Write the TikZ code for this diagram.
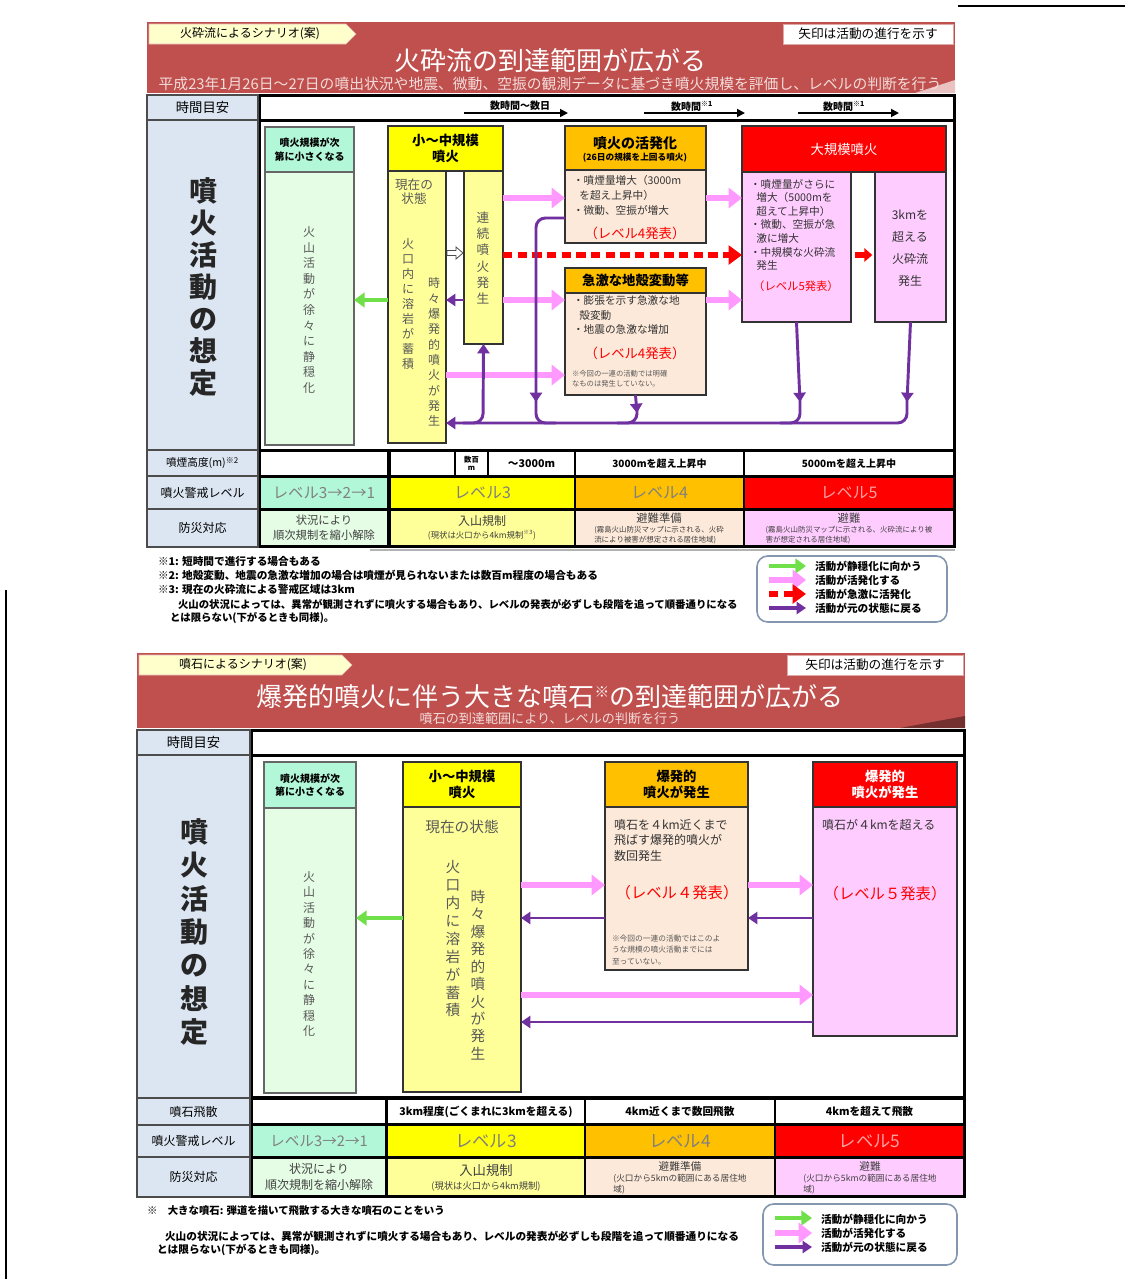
\documentclass[tikz,border=0pt]{standalone}
\usepackage{fontspec}
\setmainfont{Noto Sans CJK JP}
\usetikzlibrary{fit,arrows.meta}
\definecolor{banner}{HTML}{C0504D}
\definecolor{tabY}{HTML}{FFFFCC}
\definecolor{lblue}{HTML}{DCE6F2}
\definecolor{mint}{HTML}{B3F7D9}
\definecolor{lgreen}{HTML}{E5FDE5}
\definecolor{yel}{HTML}{FFFF00}
\definecolor{lyel}{HTML}{FFFF99}
\definecolor{ora}{HTML}{FFC000}
\definecolor{peach}{HTML}{FDE9D9}
\definecolor{rred}{HTML}{FF0000}
\definecolor{lpink}{HTML}{FFCCFF}
\definecolor{parr}{HTML}{FF99FF}
\definecolor{garr}{HTML}{70E04A}
\definecolor{purp}{HTML}{7030A0}
\definecolor{txtg}{HTML}{595959}
\definecolor{subpink}{HTML}{F2DCDB}
\definecolor{legb}{HTML}{8497B0}
\definecolor{lvtxt}{HTML}{808080}
\definecolor{lv5txt}{HTML}{FFA0A0}
\newcommand\F[2]{\fontsize{#1}{#2}\selectfont}
% \cell{box style}{name}{x1}{y1}{x2}{y2}{text options}{text}
\newcommand\cell[8]{\node[#1,fit={(#3,#4)(#5,#6)}] (#2) {};\node[align=center,#7] (#2t) at (#2.center) {#8};}
\tikzset{
  every node/.style={inner sep=0pt,outer sep=0pt},
  lbl/.style={draw=black!70,fill=lblue,line width=0.8pt},
  thk/.style={draw=black,line width=1.8pt,fill=white},
  cellb/.style={draw=black,line width=1pt},
  bx/.style={draw=black!80,line width=1pt},
  pinkar/.style={draw=parr,line width=4.5pt,-{Triangle[length=10pt,width=15pt]}},
  greenar/.style={draw=garr,line width=2.6pt,-{Triangle[length=8pt,width=11pt]}},
  purpar/.style={draw=purp,line width=2.2pt,-{Triangle[length=7pt,width=9pt]}},
  purpln/.style={draw=purp,line width=2.2pt,rounded corners=7pt},
  reddash/.style={draw=rred,line width=3.8pt,dash pattern=on 7pt off 4pt,-{Triangle[length=10pt,width=14pt]}},
  redar/.style={draw=rred,line width=5pt,-{Triangle[length=6pt,width=10pt]}},
  timear/.style={draw=black,line width=1.3pt,-{Triangle[length=6pt,width=6pt]}},
  gtxt/.style={text=txtg,align=center},
  ltxt/.style={text=black!80,align=left},
}
\begin{document}
\begin{tikzpicture}[x=0.75pt,y=-0.75pt]
\useasboundingbox (0,0) rectangle (1125,1279);
\fill[white] (0,0) rectangle (1125,1279);
\draw[line width=1.5pt] (958,6) -- (1125,6);
\draw[line width=2pt] (6,590) -- (6,1279);

%================ TOP DIAGRAM =================
\fill[banner] (147,22) rectangle (955,93);
\fill[banner!35] (915,93) -- (955,80) -- (955,93) -- cycle;
\draw[fill=tabY,draw=banner!40] (149,24) -- (346,24) -- (356,34) -- (346,44) -- (149,44) -- cycle;
\node (tab1) at (250,34) {\F{9}{10}火砕流によるシナリオ(案)};
\cell{draw=banner!50,fill=white}{note1}{783}{24}{953}{44}{font=\F{9.5}{10}}{矢印は活動の進行を示す}
\node[text=white] (title1) at (550,61) {\F{19.5}{22}火砕流の到達範囲が広がる};
\node[text=subpink] (sub1) at (550,84) {\F{11.1}{13}平成23年1月26日～27日の噴出状況や地震、微動、空振の観測データに基づき噴火規模を評価し、レベルの判断を行う};

\draw[line width=1.8pt] (147,95) rectangle (955,547);
\cell{lbl}{L1}{147}{95}{258}{120}{font=\F{10}{12}}{時間目安}
\node[lbl,fit={(147,120)(258,450)}] (L2) {};
\node[align=center,font=\F{21}{24}\bfseries,text=black!85] (L2t) at (203,287) {噴\\火\\活\\動\\の\\想\\定};
\cell{lbl}{L3}{147}{450}{258}{476}{font=\F{8}{9}}{噴煙高度(m)\textsuperscript{※2}}
\cell{lbl}{L4}{147}{476}{258}{509}{font=\F{9}{10}}{噴火警戒レベル}
\cell{lbl}{L5}{147}{509}{258}{547}{font=\F{9}{10}}{防災対応}
\node[thk,fit={(260,96)(954,120)}] (T1) {};
\node[thk,fit={(260,121)(954,450)}] (M1) {};

% time row
\coordinate (ta1) at (464,113); \coordinate (ta2) at (568,113);
\coordinate (tb1) at (644,113); \coordinate (tb2) at (745,113);
\coordinate (tc1) at (798,113); \coordinate (tc2) at (899,113);
\draw[timear] (ta1) -- (ta2);
\draw[timear] (tb1) -- (tb2);
\draw[timear] (tc1) -- (tc2);
\node[font=\F{7.5}{8}\bfseries] (tt1) at (520,106) {数時間～数日};
\node[font=\F{7.5}{8}\bfseries] (tt2) at (692,106) {数時間\textsuperscript{※1}};
\node[font=\F{7.5}{8}\bfseries] (tt3) at (844,106) {数時間\textsuperscript{※1}};

% green column
\cell{bx,draw=black!60,fill=mint}{GH}{265}{127}{354}{172}{font=\F{7.5}{10}\bfseries}{噴火規模が次\\第に小さくなる}
\node[bx,draw=black!60,fill=lgreen,fit={(265,172)(354,445)}] (GB) {};
\node[gtxt,font=\F{9}{11.7}] (GBt) at (309,310) {火\\山\\活\\動\\が\\徐\\々\\に\\静\\穏\\化};

% yellow column
\cell{bx,fill=yel}{YH}{388}{126}{503}{171}{font=\F{10}{12}\bfseries}{小～中規模\\噴火}
\node[bx,fill=lyel,fit={(388,171)(446,443)}] (YL) {};
\node[bx,fill=lyel,fit={(464,171)(503,344)}] (YR) {};
\node[gtxt,font=\F{9.5}{10.5}] (YLa) at (414,192) {現在の\\状態};
\node[gtxt,font=\F{9}{11.3}] (YLb) at (408,304) {火\\口\\内\\に\\溶\\岩\\が\\蓄\\積};
\node[gtxt,font=\F{9}{11.5}] (YLc) at (434,352) {時\\々\\爆\\発\\的\\噴\\火\\が\\発\\生};
\node[gtxt,font=\F{9.5}{12.2}] (YRt) at (483,258) {連\\続\\噴\\火\\発\\生};

% orange box 1
\node[bx,fill=ora,fit={(565,126)(706,170)}] (O1H) {};
\node[font=\F{10.5}{12}\bfseries] (O1Ha) at (635,143) {噴火の活発化};
\node[font=\F{6.5}{7}\bfseries] (O1Hb) at (635,158) {(26日の規模を上回る噴火)};
\node[bx,fill=peach,fit={(565,170)(706,243)}] (O1B) {};
\node[ltxt,anchor=north west,font=\F{8}{11.2}] (O1Bt) at (573,175) {・噴煙量増大（3000m\\\hspace{0.6em}を超え上昇中）\\・微動、空振が増大};
\node[text=rred,font=\F{10}{11}] (O1Br) at (635,233) {（レベル4発表）};

% orange box 2
\cell{bx,fill=ora}{O2H}{565}{268}{706}{293}{font=\F{10}{11}\bfseries}{急激な地殻変動等}
\node[bx,fill=peach,fit={(565,293)(706,395)}] (O2B) {};
\node[ltxt,anchor=north west,font=\F{8}{10.6}] (O2Bt) at (573,296) {・膨張を示す急激な地\\\hspace{0.6em}殻変動\\・地震の急激な増加};
\node[text=rred,font=\F{10}{11}] (O2Br) at (635,353) {（レベル4発表）};
\node[ltxt,text=txtg,anchor=north west,font=\F{5.5}{7.6}] (O2Bn) at (572,370) {※今回の一連の活動では明確\\なものは発生していない。};

% red box
\cell{bx,fill=rred}{RH}{742}{126}{946}{172}{text=white,font=\F{10}{11}}{大規模噴火}
\node[bx,fill=lpink,fit={(742,172)(851,322)}] (RL) {};
\node[bx,fill=lpink,fit={(875,172)(946,322)}] (RR) {};
\node[ltxt,anchor=north west,font=\F{8}{10.2}] (RLt) at (750,179) {・噴煙量がさらに\\\hspace{0.6em}増大（5000mを\\\hspace{0.6em}超えて上昇中）\\・微動、空振が急\\\hspace{0.6em}激に増大\\・中規模な火砕流\\\hspace{0.6em}発生};
\node[text=rred,font=\F{8.5}{9}] (RLr) at (796,286) {（レベル5発表）};
\node[gtxt,text=black!80,font=\F{9}{16.5}] (RRt) at (910,248) {3kmを\\超える\\火砕流\\発生};

% arrows top
\draw[pinkar] (YR.east |- 0,198) -- (O1B.west |- 0,198);
\draw[pinkar] (O1B.east |- 0,198) -- (RL.west |- 0,198);
\draw[reddash] (YR.east |- 0,255) -- (RL.west |- 0,255);
\draw[pinkar] (YR.east |- 0,300) -- (O2B.west |- 0,300);
\draw[pinkar] (O2B.east |- 0,300) -- (RL.west |- 0,300);
\draw[pinkar] (YL.east |- 0,375) -- (O2B.west |- 0,375);
\draw[greenar] (YL.west |- 0,300) -- (GB.east |- 0,300);
\draw[purpar] (YR.west |- 0,300) -- (YL.east |- 0,300);
\draw[redar] ([xshift=3pt]RL.east |- 0,255) -- ([xshift=-2pt]RR.west |- 0,255);
\draw[fill=white,draw=black!70,line width=0.6pt] (447,250.5) -- (456,250.5) -- (456,247) -- (463,253) -- (456,259) -- (456,255.5) -- (447,255.5) -- cycle;

% purple network
\draw[purpar] (RR.south) -- (907,402);
\draw[purpar] (RL.south) -- (800,402);
\draw[purpar] (O2B.south) -- (637,413);
\draw[purpln,-{Triangle[length=7pt,width=9pt]}] (907,398) -- (907,423) -- (YL.east |- 0,423);
\draw[purpln] (800,398) -- (800,423) -- (780,423);
\draw[purpln] (637,408) -- (637,423) -- (617,423);
\draw[purpln] (O1B.west |- 0,218) -- (536,218) -- (536,400);
\draw[purpar] (536,390) -- (536,402);
\draw[purpln] (536,398) -- (536,423) -- (556,423);
\draw[purpln,-{Triangle[length=7pt,width=9pt]}] (463,423) -- (483,423) -- (YR.south);

% lower rows top
\node[cellb,fill=white,fit={(260,451)(388,476)}] (H1) {};
\node[cellb,fill=white,fit={(390,451)(455,476)}] (H2) {};
\cell{cellb,fill=white}{H3}{455}{451}{488}{476}{font=\F{5.5}{6.5}\bfseries}{数百\\m}
\cell{cellb,fill=white}{H4}{488}{451}{575}{476}{font=\F{8}{9}\bfseries}{～3000m}
\cell{cellb,fill=white}{H5}{575}{451}{744}{476}{font=\F{7.5}{8}\bfseries}{3000mを超え上昇中}
\cell{cellb,fill=white}{H6}{744}{451}{954}{476}{font=\F{7.5}{8}\bfseries}{5000mを超え上昇中}
\cell{cellb,fill=mint}{V1}{260}{477}{388}{509}{text=lvtxt,font=\F{11.5}{12}}{レベル3→2→1}
\cell{cellb,fill=yel}{V2}{390}{477}{575}{509}{text=lvtxt,font=\F{12}{12}}{レベル3}
\cell{cellb,fill=ora}{V3}{575}{477}{744}{509}{text=lvtxt,font=\F{12}{12}}{レベル4}
\cell{cellb,fill=rred}{V4}{744}{477}{954}{509}{text=lv5txt,font=\F{12}{12}}{レベル5}
\cell{cellb,fill=lgreen}{P1}{260}{510}{388}{546}{text=black!75,font=\F{8.5}{11}}{状況により\\順次規制を縮小解除}
\node[cellb,fill=lyel,fit={(390,510)(575,546)}] (P2) {};
\node[text=black!75,font=\F{9}{10}] (P2a) at (482,521) {入山規制};
\node[text=black!75,font=\F{6.3}{7}] (P2b) at (482,535) {(現状は火口から4km規制\textsuperscript{※3})};
\node[cellb,fill=peach,fit={(575,510)(744,546)}] (P3) {};
\node[text=black!75,font=\F{8.5}{9}] (P3a) at (659,518) {避難準備};
\node[text=black!75,align=left,font=\F{5.6}{7.5}] (P3b) at (659,535) {(霧島火山防災マップに示される、火砕\\流により被害が想定される居住地域)};
\node[cellb,fill=lpink,fit={(744,510)(954,546)}] (P4) {};
\node[text=black!75,font=\F{8.5}{9}] (P4a) at (849,518) {避難};
\node[text=black!75,align=left,font=\F{5.6}{7.5}] (P4b) at (849,535) {(霧島火山防災マップに示される、火砕流により被\\害が想定される居住地域)};
\draw[black!30,line width=1pt] (370,550) -- (955,550);

% notes top
\node[anchor=west,font=\F{8}{8}\bfseries] (n1) at (158,561) {※1: 短時間で進行する場合もある};
\node[anchor=west,font=\F{8}{8}\bfseries] (n2) at (158,575) {※2: 地殻変動、地震の急激な増加の場合は噴煙が見られないまたは数百m程度の場合もある};
\node[anchor=west,font=\F{8}{8}\bfseries] (n3) at (158,589) {※3: 現在の火砕流による警戒区域は3km};
\node[anchor=west,font=\F{7.8}{8}\bfseries] (n4) at (178,604) {火山の状況によっては、異常が観測されずに噴火する場合もあり、レベルの発表が必ずしも段階を追って順番通りになる};
\node[anchor=west,font=\F{7.8}{8}\bfseries] (n5) at (170,618) {とは限らない(下がるときも同様)。};

% legend top
\node[draw=legb,line width=1.2pt,rounded corners=8pt,fit={(757,556)(947,622)}] (LG1) {};
\coordinate (lg1a) at (769,566); \coordinate (lg1b) at (806,566);
\coordinate (lg2a) at (769,580); \coordinate (lg2b) at (806,580);
\coordinate (lg3a) at (769,594); \coordinate (lg3b) at (806,594);
\coordinate (lg4a) at (769,608); \coordinate (lg4b) at (806,608);
\draw[greenar] (lg1a) -- (lg1b);
\draw[pinkar] (lg2a) -- (lg2b);
\draw[reddash] (lg3a) -- (lg3b);
\draw[purpar,line width=3pt] (lg4a) -- (lg4b);
\node[anchor=west,font=\F{8}{8}\bfseries] (lgt1) at (815,566) {活動が静穏化に向かう};
\node[anchor=west,font=\F{8}{8}\bfseries] (lgt2) at (815,580) {活動が活発化する};
\node[anchor=west,font=\F{8}{8}\bfseries] (lgt3) at (815,594) {活動が急激に活発化};
\node[anchor=west,font=\F{8}{8}\bfseries] (lgt4) at (815,608) {活動が元の状態に戻る};

%================ BOTTOM DIAGRAM =================
\fill[banner] (137,653) rectangle (965,728);
\fill[banner!60!black] (900,728) -- (965,716) -- (965,728) -- cycle;
\draw[fill=tabY,draw=banner!40] (139,655) -- (342,655) -- (352,665) -- (342,675) -- (139,675) -- cycle;
\node (tab2) at (243,665) {\F{9}{10}噴石によるシナリオ(案)};
\cell{draw=banner!50,fill=white}{note2}{787}{655}{963}{675}{font=\F{9.5}{10}}{矢印は活動の進行を示す}
\node[text=white] (title2) at (550,697) {\F{19.5}{22}爆発的噴火に伴う大きな噴石\raisebox{0.35em}{\F{11}{12}※}の到達範囲が広がる};
\node[text=subpink] (sub2) at (550,719) {\F{9.8}{11}噴石の到達範囲により、レベルの判断を行う};

\draw[line width=1.8pt] (137,730) rectangle (965,1197);
\cell{lbl}{B1}{137}{730}{250}{755}{font=\F{10}{12}}{時間目安}
\node[lbl,fit={(137,755)(250,1098)}] (B2) {};
\node[align=center,font=\F{21}{25}\bfseries,text=black!85] (B2t) at (194,932) {噴\\火\\活\\動\\の\\想\\定};
\cell{lbl}{B3}{137}{1098}{250}{1125}{font=\F{9}{10}}{噴石飛散}
\cell{lbl}{B4}{137}{1125}{250}{1157}{font=\F{9}{10}}{噴火警戒レベル}
\cell{lbl}{B5}{137}{1157}{250}{1197}{font=\F{9}{10}}{防災対応}
\node[thk,fit={(252,731)(964,755)}] (T2) {};
\node[thk,fit={(252,756)(964,1097)}] (M2) {};

% green column 2
\cell{bx,draw=black!60,fill=mint}{G2H}{264}{762}{356}{808}{font=\F{7.5}{10}\bfseries}{噴火規模が次\\第に小さくなる}
\node[bx,draw=black!60,fill=lgreen,fit={(264,808)(356,1093)}] (G2B) {};
\node[gtxt,font=\F{9}{11.6}] (G2Bt) at (309,954) {火\\山\\活\\動\\が\\徐\\々\\に\\静\\穏\\化};

% yellow column 2
\cell{bx,fill=yel}{Y2H}{403}{762}{521}{807}{font=\F{10}{11.5}\bfseries}{小～中規模\\噴火}
\node[bx,fill=lyel,fit={(403,807)(521,1092)}] (Y2B) {};
\node[gtxt,font=\F{11}{12}] (Y2a) at (462,827) {現在の状態};
\node[gtxt,font=\F{11}{13.4}] (Y2b) at (453,939) {火\\口\\内\\に\\溶\\岩\\が\\蓄\\積};
\node[gtxt,font=\F{11}{13.1}] (Y2c) at (478,975) {時\\々\\爆\\発\\的\\噴\\火\\が\\発\\生};

% orange 2
\cell{bx,fill=ora}{OH}{605}{762}{748}{807}{font=\F{10}{11.5}\bfseries}{爆発的\\噴火が発生}
\node[bx,fill=peach,fit={(605,807)(748,970)}] (OB) {};
\node[ltxt,anchor=north west,font=\F{9}{11.6}] (OBt) at (614,819) {噴石を４km近くまで\\飛ばす爆発的噴火が\\数回発生};
\node[text=rred,font=\F{11.5}{12}] (OBr) at (677,893) {（レベル４発表）};
\node[ltxt,text=txtg,anchor=north west,font=\F{5.8}{8.6}] (OBn) at (612,935) {※今回の一連の活動ではこのよ\\うな規模の噴火活動までには\\至っていない。};

% red 2
\cell{bx,fill=rred}{RH2}{813}{762}{957}{807}{text=white,font=\F{10}{11.5}\bfseries}{爆発的\\噴火が発生}
\node[bx,fill=lpink,fit={(813,807)(957,1036)}] (RB) {};
\node[ltxt,anchor=north west,font=\F{9}{11}] (RBt) at (822,819) {噴石が４kmを超える};
\node[text=rred,font=\F{11.5}{12}] (RBr) at (885,894) {（レベル５発表）};

% arrows bottom
\draw[greenar] (Y2B.west |- 0,918) -- (G2B.east |- 0,918);
\draw[pinkar] (Y2B.east |- 0,885) -- (OB.west |- 0,885);
\draw[purpar] (OB.west |- 0,918) -- (Y2B.east |- 0,918);
\draw[pinkar] (OB.east |- 0,885) -- (RB.west |- 0,885);
\draw[purpar] (RB.west |- 0,918) -- (OB.east |- 0,918);
\draw[pinkar] (Y2B.east |- 0,995) -- (RB.west |- 0,995);
\draw[purpar] (RB.west |- 0,1022) -- (Y2B.east |- 0,1022);

% lower rows bottom
\node[cellb,fill=white,fit={(252,1099)(386,1124)}] (S1) {};
\cell{cellb,fill=white}{S2}{387}{1099}{585}{1124}{font=\F{8}{9}\bfseries}{3km程度(ごくまれに3kmを超える)}
\cell{cellb,fill=white}{S3}{585}{1099}{775}{1124}{font=\F{8}{9}\bfseries}{4km近くまで数回飛散}
\cell{cellb,fill=white}{S4}{775}{1099}{964}{1124}{font=\F{8}{9}\bfseries}{4kmを超えて飛散}
\cell{cellb,fill=mint}{W1}{252}{1125}{386}{1157}{text=lvtxt,font=\F{11}{12}}{レベル3→2→1}
\cell{cellb,fill=yel}{W2}{387}{1125}{585}{1157}{text=lvtxt,font=\F{13}{13}}{レベル3}
\cell{cellb,fill=ora}{W3}{585}{1125}{775}{1157}{text=lvtxt,font=\F{13}{13}}{レベル4}
\cell{cellb,fill=rred}{W4}{775}{1125}{964}{1157}{text=lv5txt,font=\F{13}{13}}{レベル5}
\cell{cellb,fill=lgreen}{Q1}{252}{1158}{386}{1196}{text=black!75,font=\F{9}{12}}{状況により\\順次規制を縮小解除}
\node[cellb,fill=lyel,fit={(387,1158)(585,1196)}] (Q2) {};
\node[text=black!75,font=\F{10}{11}] (Q2a) at (486,1170) {入山規制};
\node[text=black!75,font=\F{7}{8}] (Q2b) at (486,1186) {(現状は火口から4km規制)};
\node[cellb,fill=peach,fit={(585,1158)(775,1196)}] (Q3) {};
\node[text=black!75,font=\F{8}{9}] (Q3a) at (680,1166) {避難準備};
\node[text=black!75,align=left,font=\F{6.5}{8}] (Q3b) at (680,1184) {(火口から5kmの範囲にある居住地\\域)};
\node[cellb,fill=lpink,fit={(775,1158)(964,1196)}] (Q4) {};
\node[text=black!75,font=\F{8}{9}] (Q4a) at (870,1166) {避難};
\node[text=black!75,align=left,font=\F{6.5}{8}] (Q4b) at (870,1184) {(火口から5kmの範囲にある居住地\\域)};

% notes bottom
\node[anchor=west,font=\F{7.8}{8}\bfseries] (m1) at (147,1211) {※\hspace{1em}大きな噴石: 弾道を描いて飛散する大きな噴石のことをいう};
\node[anchor=west,font=\F{8}{8}\bfseries] (m2) at (165,1236) {火山の状況によっては、異常が観測されずに噴火する場合もあり、レベルの発表が必ずしも段階を追って順番通りになる};
\node[anchor=west,font=\F{8}{8}\bfseries] (m3) at (157,1250) {とは限らない(下がるときも同様)。};

% legend bottom
\node[draw=legb,line width=1.2pt,rounded corners=8pt,fit={(763,1204)(957,1265)}] (LG2) {};
\coordinate (lh1a) at (775,1218); \coordinate (lh1b) at (812,1218);
\coordinate (lh2a) at (775,1233); \coordinate (lh2b) at (812,1233);
\coordinate (lh3a) at (775,1247); \coordinate (lh3b) at (812,1247);
\draw[greenar] (lh1a) -- (lh1b);
\draw[pinkar] (lh2a) -- (lh2b);
\draw[purpar,line width=3pt] (lh3a) -- (lh3b);
\node[anchor=west,font=\F{8}{8}\bfseries] (lht1) at (821,1219) {活動が静穏化に向かう};
\node[anchor=west,font=\F{8}{8}\bfseries] (lht2) at (821,1233) {活動が活発化する};
\node[anchor=west,font=\F{8}{8}\bfseries] (lht3) at (821,1247) {活動が元の状態に戻る};
\end{tikzpicture}
\end{document}
